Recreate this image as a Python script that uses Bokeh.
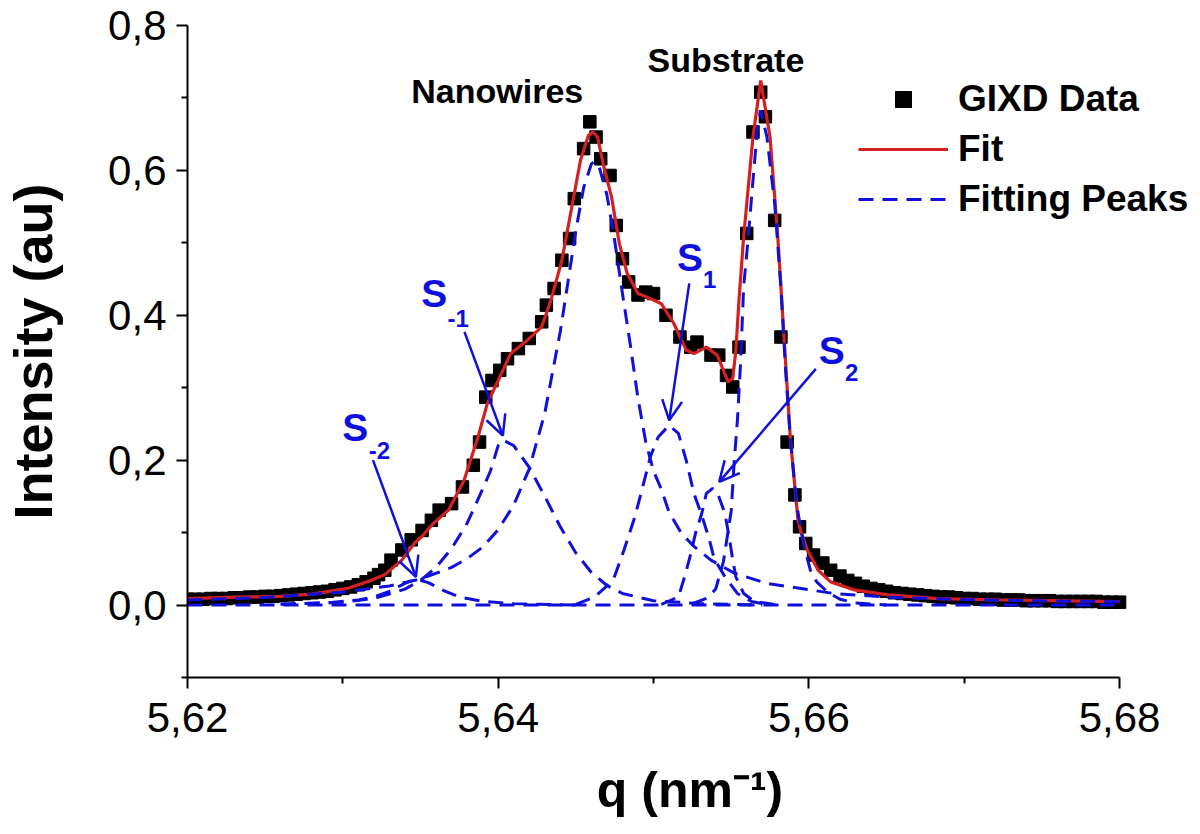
from bokeh.plotting import figure
from bokeh.models import (FixedTicker, CustomJSTickFormatter, Legend, LegendItem,
                          Arrow, OpenHead, Label, Range1d)
from bokeh.embed import file_html
from bokeh.resources import INLINE

# ---------------- data ----------------
data_q = [5.6200, 5.6205, 5.6210, 5.6215, 5.6220, 5.6225, 5.6230, 5.6235, 5.6240, 5.6245,
          5.6250, 5.6255, 5.6260, 5.6265, 5.6270, 5.6275, 5.6280, 5.6285, 5.6290, 5.6295,
          5.6300, 5.6305, 5.6310, 5.6315, 5.6320, 5.6323, 5.6327, 5.6331, 5.6338, 5.6344,
          5.6351, 5.6357, 5.6362, 5.6370, 5.6377, 5.6384, 5.6388, 5.6392, 5.6396, 5.6401,
          5.6406, 5.6413, 5.6420, 5.6428, 5.6431, 5.6436, 5.6441, 5.6446, 5.6449, 5.6455,
          5.6459, 5.6463, 5.6466, 5.6472, 5.6476, 5.6480, 5.6484, 5.6490, 5.6495, 5.6500,
          5.6508, 5.6517, 5.6524, 5.6528, 5.6537, 5.6542, 5.6547, 5.6551, 5.6555, 5.6560,
          5.6564, 5.6569, 5.6572, 5.6578, 5.6582, 5.6586, 5.6591, 5.6594, 5.6598, 5.6603,
          5.6609, 5.6614, 5.6620, 5.6625, 5.6630, 5.6635, 5.6640, 5.6645, 5.6650, 5.6655,
          5.6660, 5.6665, 5.6670, 5.6675, 5.6680, 5.6685, 5.6690, 5.6695, 5.6700, 5.6705,
          5.6710, 5.6715, 5.6720, 5.6725, 5.6730, 5.6735, 5.6740, 5.6745, 5.6750, 5.6755,
          5.6760, 5.6765, 5.6770, 5.6775, 5.6780, 5.6785, 5.6790, 5.6795, 5.6800]
data_i = [0.008, 0.008, 0.008, 0.009, 0.009, 0.009, 0.010, 0.010, 0.011, 0.011,
          0.012, 0.012, 0.013, 0.014, 0.015, 0.016, 0.017, 0.018, 0.019, 0.021,
          0.023, 0.025, 0.028, 0.032, 0.037, 0.042, 0.048, 0.062, 0.076, 0.090,
          0.103, 0.117, 0.131, 0.140, 0.163, 0.193, 0.225, 0.287, 0.310, 0.324,
          0.340, 0.354, 0.368, 0.391, 0.414, 0.437, 0.476, 0.506, 0.561, 0.630,
          0.667, 0.646, 0.616, 0.593, 0.524, 0.478, 0.446, 0.428, 0.432, 0.430,
          0.400, 0.370, 0.356, 0.363, 0.345, 0.345, 0.317, 0.301, 0.356, 0.513,
          0.653, 0.708, 0.674, 0.531, 0.370, 0.225, 0.152, 0.108, 0.085, 0.069,
          0.058, 0.048, 0.040, 0.034, 0.030, 0.026, 0.023, 0.021, 0.019, 0.017,
          0.016, 0.015, 0.014, 0.013, 0.012, 0.011, 0.011, 0.010, 0.009, 0.009,
          0.008, 0.008, 0.008, 0.007, 0.007, 0.007, 0.006, 0.006, 0.006, 0.006,
          0.005, 0.005, 0.005, 0.005, 0.005, 0.005, 0.004, 0.004, 0.004]

fit_q = [5.6200, 5.6230, 5.6260, 5.6280, 5.6303, 5.6318, 5.6327, 5.6338, 5.6346, 5.6351,
         5.6358, 5.6368, 5.6378, 5.6387, 5.6393, 5.6400, 5.6408, 5.6419, 5.6428, 5.6434,
         5.6441, 5.6447, 5.6453, 5.6458, 5.6461, 5.6464, 5.6468, 5.6473, 5.6478, 5.6483,
         5.6490, 5.6498, 5.6505, 5.6513, 5.6521, 5.6526, 5.6534, 5.6541, 5.6545, 5.6548,
         5.6551, 5.6553, 5.6555, 5.6558, 5.6564, 5.6569, 5.6575, 5.6580, 5.6584, 5.6588,
         5.6593, 5.6595, 5.6599, 5.6606, 5.6614, 5.6629, 5.6651, 5.6683, 5.6726, 5.6800]
fit_i = [0.009, 0.011, 0.012, 0.015, 0.023, 0.034, 0.042, 0.062, 0.085, 0.095,
         0.112, 0.131, 0.172, 0.232, 0.278, 0.310, 0.347, 0.366, 0.384, 0.421,
         0.476, 0.545, 0.614, 0.648, 0.653, 0.646, 0.605, 0.563, 0.499, 0.458,
         0.430, 0.423, 0.416, 0.389, 0.352, 0.347, 0.356, 0.345, 0.324, 0.308,
         0.313, 0.352, 0.421, 0.508, 0.646, 0.724, 0.646, 0.508, 0.370, 0.232,
         0.117, 0.100, 0.076, 0.048, 0.032, 0.021, 0.014, 0.009, 0.007, 0.0046]

# fitting peaks
base_q = [5.6200, 5.6800]
base_i = [0.0, 0.0]

nw_q = [5.6200, 5.6250, 5.6300, 5.6330, 5.6350, 5.6370, 5.6380, 5.6390, 5.6400, 5.6410,
        5.6420, 5.6430, 5.6440, 5.6445, 5.6450, 5.6455, 5.6460, 5.6462, 5.6465, 5.6470,
        5.6475, 5.6480, 5.6485, 5.6490, 5.6495, 5.6500, 5.6505, 5.6510, 5.6518, 5.6526,
        5.6537, 5.6552, 5.6573, 5.6616, 5.6650, 5.6700, 5.6750, 5.6800]
nw_i = [0.0069, 0.0105, 0.0177, 0.0264, 0.036, 0.052, 0.064, 0.080, 0.104, 0.138,
        0.188, 0.265, 0.378, 0.447, 0.517, 0.576, 0.609, 0.612, 0.605, 0.566,
        0.503, 0.430, 0.360, 0.285, 0.225, 0.185, 0.160, 0.128, 0.099, 0.081,
        0.062, 0.044, 0.030, 0.016, 0.011, 0.0075, 0.0058, 0.0046]

sm1_q = [5.6260, 5.6300, 5.6320, 5.6340, 5.6350, 5.6360, 5.6370, 5.6380, 5.6390, 5.6395,
         5.6400, 5.6403, 5.6410, 5.6420, 5.6430, 5.6440, 5.6450, 5.6460, 5.6470, 5.6480,
         5.6500, 5.6530, 5.6570]
sm1_i = [0.001, 0.004, 0.009, 0.022, 0.034, 0.052, 0.078, 0.113, 0.160, 0.185,
         0.220, 0.228, 0.220, 0.190, 0.150, 0.108, 0.072, 0.045, 0.027, 0.016,
         0.006, 0.002, 0.000]

sm2_q = [5.6260, 5.6290, 5.6310, 5.6320, 5.6330, 5.6340, 5.6347, 5.6355, 5.6365, 5.6375,
         5.6390, 5.6410, 5.6450]
sm2_i = [0.001, 0.003, 0.007, 0.011, 0.019, 0.030, 0.036, 0.031, 0.020, 0.011,
         0.005, 0.002, 0.000]

s1_q = [5.6450, 5.6462, 5.6474, 5.6481, 5.6488, 5.6493, 5.6498, 5.6503, 5.6510, 5.6516,
        5.6521, 5.6526, 5.6531, 5.6536, 5.6539, 5.6546, 5.6554, 5.6563, 5.6575]
s1_i = [0.001, 0.011, 0.034, 0.076, 0.122, 0.163, 0.205, 0.232, 0.248, 0.237,
        0.200, 0.154, 0.124, 0.090, 0.064, 0.039, 0.016, 0.005, 0.000]

s2_q = [5.6505, 5.6516, 5.6520, 5.6524, 5.6527, 5.6531, 5.6534, 5.6538, 5.6541, 5.6546,
        5.6549, 5.6551, 5.6553, 5.6558, 5.6565, 5.6580]
s2_i = [0.001, 0.011, 0.039, 0.071, 0.099, 0.126, 0.154, 0.161, 0.156, 0.126,
        0.090, 0.062, 0.039, 0.016, 0.005, 0.000]

sub_q = [5.6525, 5.6535, 5.6540, 5.6545, 5.6550, 5.6552, 5.6554, 5.6556, 5.6558, 5.6561,
         5.6564, 5.6567, 5.6569, 5.6573, 5.6578, 5.6582, 5.6585, 5.6588, 5.6592, 5.6597,
         5.6601, 5.6605, 5.6612, 5.6620, 5.6630, 5.6650]
sub_i = [0.002, 0.010, 0.022, 0.060, 0.130, 0.200, 0.255, 0.333, 0.439, 0.508,
         0.586, 0.660, 0.683, 0.646, 0.554, 0.439, 0.324, 0.232, 0.140, 0.080,
         0.048, 0.032, 0.018, 0.008, 0.003, 0.000]

x_major = [5.62, 5.64, 5.66, 5.68]
x_minor = [5.63, 5.65, 5.67]
y_major = [0.0, 0.2, 0.4, 0.6, 0.8]
y_minor = [-0.1, 0.1, 0.3, 0.5, 0.7]

# annotation anchors (data coords)
arrows = [  # x_start, y_start, x_end, y_end
    (5.63194, 0.200, 5.63470, 0.039),
    (5.63783, 0.377, 5.64030, 0.234),
    (5.65230, 0.444, 5.65101, 0.255),
    (5.66045, 0.326, 5.65423, 0.170),
]
s_labels = [  # main, sub, x_main, y_main, x_sub, y_sub
    ("S", "-2", 5.63080, 0.2455, 5.63235, 0.213),
    ("S", "-1", 5.63588, 0.4303, 5.63743, 0.395),
    ("S", "1", 5.65235, 0.4800, 5.65362, 0.450),
    ("S", "2", 5.66148, 0.3520, 5.66275, 0.321),
]

# ---------------- figure ----------------
FONT = "Liberation Sans"
BLUE = "#1010dc"
RED = "#d42020"

p = figure(width=1196, height=830, output_backend="svg", toolbar_location=None,
           x_range=Range1d(5.62, 5.684695), y_range=Range1d(-0.1, 0.8),
           min_border_left=186, min_border_right=4, min_border_top=25, min_border_bottom=153)
p.outline_line_color = None
p.xgrid.visible = False
p.ygrid.visible = False
p.background_fill_color = "white"

r_data = p.scatter(data_q, data_i, marker="square", size=12.5, color="black")
r_fit = p.line(fit_q, fit_i, line_color=RED, line_width=3.2)
dash = dict(line_color=BLUE, line_width=3, line_dash="15 9")
r_peaks = p.line(base_q, base_i, **dash)
for qq, ii in [(nw_q, nw_i), (sm1_q, sm1_i), (sm2_q, sm2_i), (s1_q, s1_i), (s2_q, s2_i), (sub_q, sub_i)]:
    p.line(qq, ii, **dash)

for ax, maj, mnr, fmt in [(p.xaxis[0], x_major, x_minor, "return tick.toFixed(2).replace('.', ',')"),
                          (p.yaxis[0], y_major, y_minor, "return tick.toFixed(1).replace('.', ',')")]:
    ax.ticker = FixedTicker(ticks=maj, minor_ticks=mnr)
    ax.formatter = CustomJSTickFormatter(code=fmt)
    ax.axis_line_width = 2
    ax.axis_line_color = "black"
    ax.major_tick_line_width = 2
    ax.minor_tick_line_width = 2
    ax.major_tick_in = 0
    ax.major_tick_out = 11
    ax.minor_tick_in = 0
    ax.minor_tick_out = 6
    ax.major_label_text_font = FONT
    ax.major_label_text_font_size = "42px"
    ax.major_label_text_color = "black"
    ax.axis_label_text_font = FONT
    ax.axis_label_text_font_style = "bold"
    ax.axis_label_text_color = "black"

p.xaxis.bounds = (5.62, 5.68)
p.xaxis.axis_label = "q (nm\u207b\u00b9)"
p.yaxis.axis_label = "Intensity (au)"
p.xaxis.axis_label_text_font_size = "50px"
p.yaxis.axis_label_text_font_size = "54px"
p.xaxis.major_label_standoff = 14
p.yaxis.major_label_standoff = 10
p.xaxis.axis_label_standoff = 27
p.yaxis.axis_label_standoff = 42

for xs, ys, xe, ye in arrows:
    p.add_layout(Arrow(end=OpenHead(size=20, line_color=BLUE, line_width=2.5),
                       x_start=xs, y_start=ys, x_end=xe, y_end=ye,
                       line_color=BLUE, line_width=2.5))

for m, s, xm, ym, xs, ys in s_labels:
    p.add_layout(Label(x=xm, y=ym, text=m, text_font=FONT, text_font_style="bold",
                       text_font_size="39px", text_color=BLUE, text_align="center",
                       text_baseline="middle"))
    p.add_layout(Label(x=xs, y=ys, text=s, text_font=FONT, text_font_style="bold",
                       text_font_size="24px", text_color=BLUE, text_align="center",
                       text_baseline="middle"))

p.add_layout(Label(x=5.63994, y=0.709, text="Nanowires", text_font=FONT, text_font_style="bold",
                   text_font_size="34px", text_color="black", text_align="center",
                   text_baseline="middle"))
p.add_layout(Label(x=5.65466, y=0.752, text="Substrate", text_font=FONT, text_font_style="bold",
                   text_font_size="34px", text_color="black", text_align="center",
                   text_baseline="middle"))

legend = Legend(items=[LegendItem(label="GIXD Data", renderers=[r_data]),
                       LegendItem(label="Fit", renderers=[r_fit]),
                       LegendItem(label="Fitting Peaks", renderers=[r_peaks])],
                location=(671, 457))
legend.border_line_color = None
legend.background_fill_alpha = 0
legend.label_text_font = FONT
legend.label_text_font_style = "bold"
legend.label_text_font_size = "37px"
legend.label_text_color = "black"
legend.glyph_width = 90
legend.glyph_height = 40
legend.label_height = 40
legend.label_standoff = 10
legend.spacing = 8
legend.padding = 0
legend.margin = 0
p.add_layout(legend)

open("out.html", "w").write(file_html(p, INLINE))
